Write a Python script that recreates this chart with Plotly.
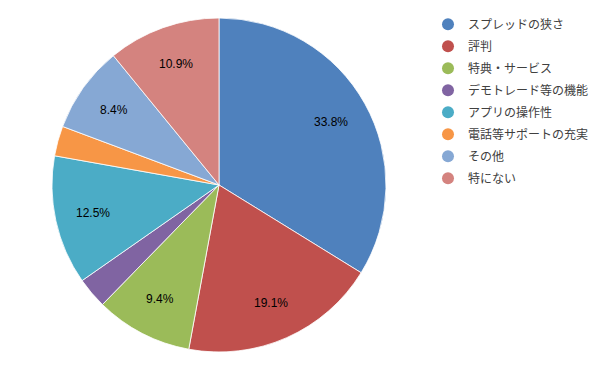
import math
import plotly.graph_objects as go

labels = ["スプレッドの狭さ", "評判", "特典・サービス", "デモトレード等の機能",
          "アプリの操作性", "電話等サポートの充実", "その他", "特にない"]
values = [33.8, 19.1, 9.4, 3.0, 12.5, 2.9, 8.4, 10.9]
shown = [True, True, True, False, True, False, True, True]
colors = ["#4F81BD", "#C0504D", "#9BBB59", "#8064A2",
          "#4BACC6", "#F79646", "#86A8D4", "#D4837F"]

W, H = 600, 371
# page body has an 8px margin; compensate
OFF = 8
cx, cy, R = 219 - OFF, 185 - OFF, 167  # pie centre / radius in figure px
LABEL_R = 0.77

fig = go.Figure()
fig.add_trace(go.Pie(
    labels=labels, values=values, sort=False, direction="clockwise", rotation=0,
    marker=dict(colors=colors, line=dict(color="white", width=0.8)),
    textinfo="none",
    showlegend=False, hoverinfo="label+percent",
    domain=dict(x=[(cx - R) / W, (cx + R) / W],
                y=[(H - cy - R) / H, (H - cy + R) / H]),
))
for lab, col in zip(labels, colors):
    fig.add_trace(go.Scatter(
        x=[None], y=[None], mode="markers", name=lab, legendgroup=lab,
        marker=dict(symbol="circle", size=11, color=col),
        showlegend=True,
    ))

total = sum(values)
cum = 0.0
annotations = []
for v, s in zip(values, shown):
    mid = (cum + v / 2) / total * 2 * math.pi
    cum += v
    if not s:
        continue
    px = cx + LABEL_R * R * math.sin(mid)
    py = cy - LABEL_R * R * math.cos(mid)
    annotations.append(dict(
        x=px / W, y=(H - py) / H, xref="paper", yref="paper",
        xanchor="center", yanchor="middle",
        text=f"{v:.1f}%", showarrow=False,
        font=dict(family="Liberation Sans, Arial", size=12, color="black"),
    ))

fig.update_layout(
    width=W, height=H,
    margin=dict(l=0, r=0, t=0, b=0),
    paper_bgcolor="white", plot_bgcolor="white",
    xaxis=dict(visible=False), yaxis=dict(visible=False),
    annotations=annotations,
    legend=dict(x=0.70, y=0.995, xanchor="left", yanchor="top",
                font=dict(family="Noto Sans CJK JP", size=12, color="#404040"),
                itemsizing="constant", tracegroupgap=3, itemwidth=30,
                bgcolor="rgba(0,0,0,0)"),
)
fig.write_html("out.html")
